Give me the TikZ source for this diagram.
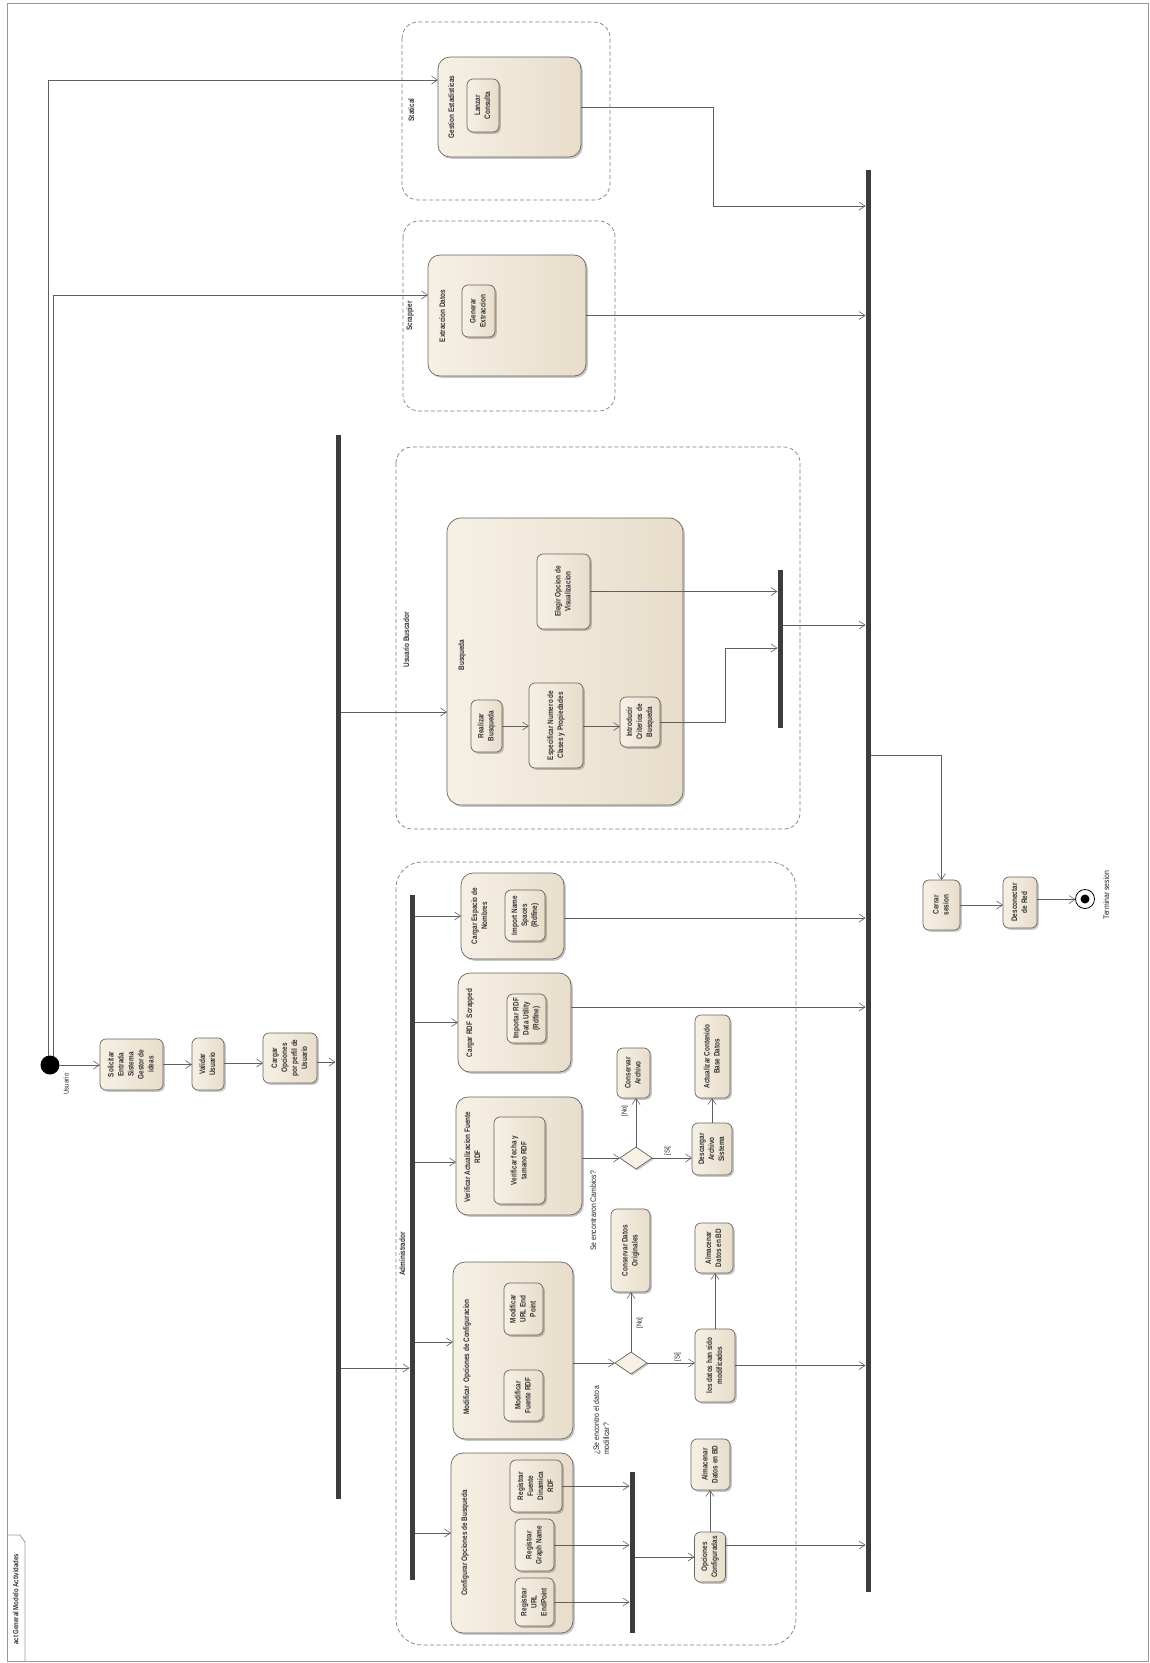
\documentclass[tikz,border=0pt]{standalone}
\usepackage{fontspec}
\setmainfont{Liberation Sans}[FakeStretch=0.86]
\newfontfamily\narrowbold{Liberation Sans}[FakeStretch=0.8]
\usepackage{graphicx}
\usetikzlibrary{arrows.meta,shadows,shapes.geometric}
\definecolor{boxfill}{RGB}{246,240,229}
\definecolor{boxfillb}{RGB}{232,221,202}
\definecolor{boxline}{RGB}{105,100,95}
\definecolor{linecol}{RGB}{95,95,95}
\definecolor{barcol}{RGB}{60,60,60}
\definecolor{partcol}{RGB}{125,125,125}
\definecolor{txtcol}{RGB}{35,35,35}
\newcommand{\rtx}[1]{\rotatebox{90}{\begin{tabular}{@{}c@{}}#1\end{tabular}}}
\newcommand{\rtl}[1]{\rotatebox{90}{\begin{tabular}{@{}l@{}}#1\end{tabular}}}
\begin{document}
\begin{tikzpicture}[x=1pt,y=-1pt,
 every node/.style={inner sep=0pt, outer sep=0pt, text=txtcol, font=\fontsize{8}{10}\selectfont},
 boldtxt/.style={font=\narrowbold\bfseries\fontsize{8}{10}\selectfont, text=black!80},
 actbox/.style={boldtxt, draw=boxline, line width=0.7pt, rounded corners=6pt, left color=boxfill, right color=boxfillb,
   drop shadow={shadow xshift=1.8pt, shadow yshift=-1.8pt, fill=black, opacity=0.22}},
 bigbox/.style={actbox, rounded corners=12pt},
 part/.style={draw=partcol, line width=0.7pt, dash pattern=on 4pt off 2.5pt, rounded corners=16pt},
 bar/.style={fill=barcol, minimum width=5pt},
 flow/.style={draw=linecol, line width=0.6pt, -{Straight Barb[length=6pt,width=8pt]}},
 decis/.style={diamond, draw=boxline, line width=0.7pt, fill=boxfill, minimum width=32pt, minimum height=22pt,
   drop shadow={shadow xshift=1.5pt, shadow yshift=-1.5pt, fill=black, opacity=0.2}},
 lbl/.style={font=\fontsize{7}{8}\selectfont},
]
\fill[white] (0,0) rectangle (1149,1663);
\useasboundingbox (0,0) rectangle (1149,1663);

% frame
\draw[draw=gray!80, line width=0.9pt] (7,3) rectangle (1148,1661);
\draw[draw=gray!80, line width=0.8pt] (7,1535) -- (20,1535) -- (25,1542) -- (25,1661);
\node[boldtxt, font=\narrowbold\bfseries\fontsize{7.5}{9}\selectfont] (frametab) at (16.5,1599) {\rtx{act General Modelo Actividades}};

% partitions
\draw[part] (402,22) rectangle (610,200);
\draw[part] (403,221) rectangle (615,411);
\draw[part] (396,447) rectangle (800,829);
\draw[part, rounded corners=26pt] (396,862) rectangle (796,1645);
\node[boldtxt] (lstat) at (412,110) {\rtx{Statical}};
\node[boldtxt] (lscr) at (410,316) {\rtx{Scrappier}};
\node[boldtxt] (lbus) at (407,640) {\rtx{Usuario Buscador}};
\node[boldtxt] (ladm) at (403,1254) {\rtx{Administrador}};

% bars
\node[bar, minimum height=1064pt] (mfork) at (338,967) {};
\node[bar, minimum height=1422pt] (mjoin) at (868,881) {};
\node[bar, minimum height=158pt] (bjoin) at (780,649) {};
\node[bar, minimum height=685pt] (abar) at (412,1237.5) {};
\node[bar, minimum height=161pt] (cjoin) at (632,1552.5) {};

% initial
\node[circle, fill=black, minimum size=19pt] (init) at (50,1065) {};
\node[lbl] (lusu) at (67,1084) {\rtx{Usuario}};
\node[actbox, minimum width=63pt, minimum height=51pt] (sol) at (131.5,1064.5) {\rtx{Solicitar\\Entrada\\Sistema\\Gestor de\\ideas}};
\node[actbox, minimum width=32pt, minimum height=52pt] (val) at (208,1064) {\rtx{Validar\\Usuario}};
\node[actbox, minimum width=54pt, minimum height=50pt] (carg) at (290,1058) {\rtx{Cargar\\Opciones\\por perfil de\\Usuario}};

% Statical
\node[bigbox, minimum width=143pt, minimum height=100pt] (gest) at (509.5,107) {};
\node[boldtxt] (gestt) at (452,107) {\rtx{Gestion Estadisticas}};
\node[actbox, minimum width=32pt, minimum height=53pt] (lanz) at (483,105.5) {\rtx{Lanzar\\Consulta}};
% Scrappier
\node[bigbox, minimum width=158pt, minimum height=121pt] (extr) at (507,315.5) {};
\node[boldtxt] (extrt) at (443,316) {\rtx{Extraccion Datos}};
\node[actbox, minimum width=33pt, minimum height=52pt] (gen) at (478.5,311) {\rtx{Generar\\Extraccion}};

% Usuario Buscador
\node[bigbox, minimum width=236pt, minimum height=287pt, rounded corners=14pt] (busq) at (565,661.5) {};
\node[boldtxt] (busqt) at (462,655) {\rtx{Busqueda}};
\node[actbox, minimum width=31pt, minimum height=52pt] (real) at (486.5,726) {\rtx{Realizar\\Busqueda}};
\node[actbox, minimum width=54pt, minimum height=85pt] (espe) at (556,725.5) {\rtx{Especificar Numero de\\Clases y Propiedades}};
\node[actbox, minimum width=40pt, minimum height=50pt] (intr) at (640,722) {\rtx{Introducir\\Criterios de\\Busqueda}};
\node[actbox, minimum width=53pt, minimum height=75pt] (eleg) at (563.5,591.5) {\rtx{Elegir Opcion de\\Visualizacion}};

% Administrador
\node[bigbox, minimum width=103pt, minimum height=86pt] (cesp) at (512.5,916) {};
\node[boldtxt] (cespt) at (480,916) {\rtx{Cargar Espacio de\\Nombres}};
\node[actbox, minimum width=40pt, minimum height=51pt] (imp) at (525,915.5) {\rtx{Import Name\\Spaces\\(Rdfine)}};

\node[bigbox, minimum width=113pt, minimum height=99pt] (crdf) at (514.5,1022.5) {};
\node[boldtxt] (crdft) at (470,1023) {\rtx{Cargar RDF\ \ Scrapped}};
\node[actbox, minimum width=39pt, minimum height=49pt] (irdf) at (526.5,1018.5) {\rtx{Importar RDF\\Data Utility\\(Rdfine)}};

\node[bigbox, minimum width=126pt, minimum height=118pt] (veri) at (519,1156) {};
\node[boldtxt] (verit) at (473,1157) {\rtx{Verificar Actualizacion Fuente\\RDF}};
\node[actbox, minimum width=51pt, minimum height=87pt] (vfec) at (519.5,1160.5) {\rtx{Verificar fecha y\\tamano RDF}};

\node[bigbox, minimum width=120pt, minimum height=177pt] (modi) at (513,1350.5) {};
\node[boldtxt] (modit) at (467,1357) {\rtx{Modificar\ \ Opciones de Configuracion}};
\node[actbox, minimum width=39pt, minimum height=51pt] (mfue) at (523.5,1395.5) {\rtx{Modificar\\Fuente RDF}};
\node[actbox, minimum width=39pt, minimum height=52pt] (murl) at (523.5,1309) {\rtx{Modificar\\URL End\\Point}};

\node[bigbox, minimum width=122pt, minimum height=180pt] (conf) at (512,1543) {};
\node[boldtxt] (conft) at (465,1543) {\rtx{Configurar Opciones de Busqueda}};
\node[actbox, minimum width=39pt, minimum height=48pt] (rurl) at (534.5,1602) {\rtx{Registrar\\URL\\EndPoint}};
\node[actbox, minimum width=39pt, minimum height=52pt] (rgra) at (534.5,1545) {\rtx{Registrar\\Graph Name}};
\node[actbox, minimum width=52pt, minimum height=52pt] (rfue) at (536,1486) {\rtx{Registrar\\Fuente\\Dinamica\\RDF}};

% Verificar decision
\node[decis] (d1) at (636,1158) {};
\node[actbox, minimum width=33pt, minimum height=50pt] (cons1) at (633.5,1073) {\rtx{Conservar\\Archivo}};
\node[actbox, minimum width=40pt, minimum height=52pt] (desc) at (712,1149) {\rtx{Descargar\\Archivo\\Sistema}};
\node[actbox, minimum width=35pt, minimum height=83pt] (actu) at (712.5,1056.5) {\rtx{Actualizar Contenido\\Base Datos}};
\node[lbl] (lno1) at (625,1111) {\rtx{[No]}};
\node[lbl] (lsi1) at (668,1151) {\rtx{[Si]}};
\node (lcamb) at (594,1211) {\rtx{Se encontraron Cambios?}};

% Modificar decision
\node[decis] (d2) at (631,1363) {};
\node[actbox, minimum width=39pt, minimum height=83pt] (cdat) at (630.5,1250.5) {\rtx{Conservar Datos\\Originales}};
\node[actbox, minimum width=40pt, minimum height=73pt] (ldat) at (715,1365.5) {\rtx{los datos han sido\\modificados}};
\node[actbox, minimum width=38pt, minimum height=50pt] (alm1) at (714,1248) {\rtx{Almacenar\\Datos en BD}};
\node[lbl] (lno2) at (640,1323) {\rtx{[No]}};
\node[lbl] (lsi2) at (678,1357) {\rtx{[Si]}};
\node (ldato) at (602,1420) {\rtl{¿Se encontro el dato a\\modificar?}};

% Configurar outputs
\node[actbox, minimum width=31pt, minimum height=50pt] (opc) at (710,1557) {\rtx{Opciones\\Configuradas}};
\node[actbox, minimum width=39pt, minimum height=51pt] (alm2) at (710.5,1464.5) {\rtx{Almacenar\\Datos en BD}};

% end
\node[actbox, minimum width=37pt, minimum height=50pt] (cerr) at (941.5,905) {\rtx{Cerrar\\sesion}};
\node[actbox, minimum width=34pt, minimum height=51pt] (dred) at (1020,902.5) {\rtx{Desconectar\\de Red}};
\node[circle, draw=black, line width=0.8pt, fill=white, minimum size=19pt] (fin) at (1085,899) {};
\node[circle, fill=black, minimum size=9pt] (finin) at (fin.center) {};
\node (lterm) at (1107,895) {\rtx{Terminar sesion}};

% ---------- connectors ----------
\draw[flow] ([xshift=-2pt]init.north) |- ([yshift=27pt]gest.west);
\draw[flow] ([xshift=3pt]init.north) |- ([yshift=20.5pt]extr.west);
\draw[flow] (init.east) -- (sol.west |- init.east);
\draw[flow] (sol.east) -- (val.west |- sol.east);
\draw[flow] ([yshift=1pt]val.east) -- ([yshift=1pt]val.east -| carg.west);
\draw[flow] ([yshift=-4pt]carg.east) -- ([yshift=-4pt]carg.east -| mfork.west);

\coordinate (gb) at (713,206);
\draw[flow] (gest.east) -| (gb) -- (mjoin.west |- gb);
\draw[flow] (extr.east) -- (mjoin.west |- extr.east);

\coordinate (bq) at (447,712);
\draw[flow] (mfork.east |- bq) -- (busq.west |- bq);
\draw[flow] (real.east) -- (real.east -| espe.west);
\draw[flow] ([yshift=-1pt]espe.east) -- ([yshift=-1pt]espe.east -| intr.west);
\coordinate (ib) at (725,648);
\draw[flow] (intr.east) -| (ib) -- (bjoin.west |- ib);
\draw[flow] (eleg.east) -- (eleg.east -| bjoin.west);
\coordinate (bj) at (790,625);
\draw[flow] (bjoin.east |- bj) -- (mjoin.west |- bj);

\coordinate (ma) at (350,1368);
\draw[flow] (mfork.east |- ma) -- (abar.west |- ma);
\draw[flow] (abar.east |- cesp.west) -- (cesp.west);
\draw[flow] (abar.east |- crdf.west) -- (crdf.west);
\draw[flow] ([yshift=-6pt]abar.east |- veri.west) -- ([yshift=-6pt]veri.west);
\draw[flow] ([yshift=8.5pt]abar.east |- modi.west) -- ([yshift=8.5pt]modi.west);
\draw[flow] ([yshift=10pt]abar.east |- conf.west) -- ([yshift=10pt]conf.west);

\draw[flow] ([yshift=-2pt]cesp.east) -- ([yshift=-2pt]cesp.east -| mjoin.west);
\draw[flow] ([yshift=15.5pt]crdf.east) -- ([yshift=15.5pt]crdf.east -| mjoin.west);

\draw[flow] (veri.east |- d1.west) -- (d1.west);
\draw[flow] (d1.north) -- (d1.north |- cons1.south);
\draw[flow] (d1.east) -- (d1.east -| desc.west);
\draw[flow] (desc.north) -- (desc.north |- actu.south);

\draw[flow] (modi.east |- d2.west) -- (d2.west);
\draw[flow] (d2.north) -- (d2.north |- cdat.south);
\draw[flow] (d2.east) -- (d2.east -| ldat.west);
\draw[flow] (ldat.north) -- (ldat.north |- alm1.south);
\draw[flow] (ldat.east) -- (ldat.east -| mjoin.west);

\draw[flow] (rurl.east) -- (rurl.east -| cjoin.west);
\draw[flow] (rgra.east) -- (rgra.east -| cjoin.west);
\draw[flow] (rfue.east) -- (rfue.east -| cjoin.west);
\draw[flow] (cjoin.east |- opc.west) -- (opc.west);
\draw[flow] (opc.north) -- (opc.north |- alm2.south);
\draw[flow] ([yshift=12pt]opc.east) -- ([yshift=12pt]opc.east -| mjoin.west);

\coordinate (mc) at (900,755);
\draw[flow] (mjoin.east |- mc) -| (cerr.north);
\draw[flow] (cerr.east) -- (cerr.east -| dred.west);
\draw[flow] ([yshift=3pt]dred.east) -- ([yshift=3pt]dred.east -| fin.west);
\end{tikzpicture}
\end{document}
